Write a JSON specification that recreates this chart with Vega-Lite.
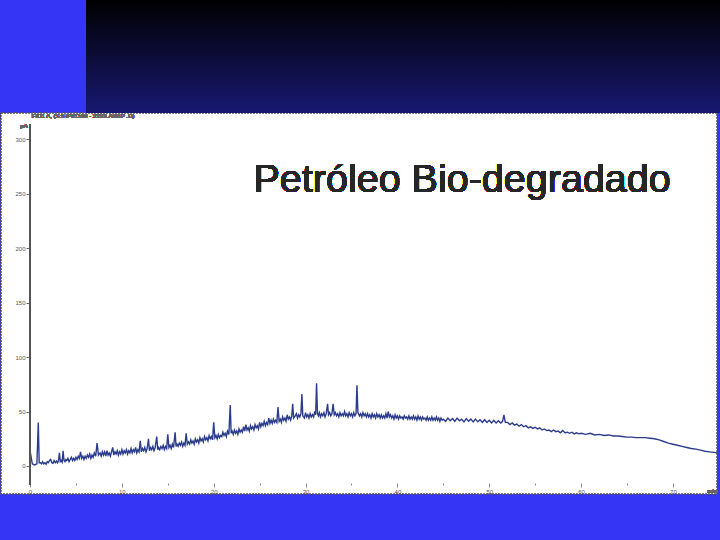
{
  "$schema": "https://vega.github.io/schema/vega-lite/v6.json",
  "width": 716,
  "height": 381,
  "autosize": {"type": "none"},
  "padding": {"left": 1, "top": 113, "right": 3, "bottom": 46},
  "background": "#3535f5",
  "config": {
    "view": {"fill": "white", "stroke": "#555555", "strokeWidth": 1.5, "strokeDash": [2, 1]},
    "font": "Liberation Sans",
    "axis": {"labelOverlap": false, "labelFlush": false, "labelBound": false, "grid": false, "title": null, "domain": false},
    "axisX": {
      "offset": -11,
      "values": [0,1,2,3,4,5,6,7,8,9,10,11,12,13,14,15,16,17,18,19,20,21,22,23,24,25,26,27,28,29,30,31,32,33,34,35,36,37,38,39,40,41,42,43,44,45,46,47,48,49,50,51,52,53,54,55,56,57,58,59,60,61,62,63,64,65,66,67,68,69,70,71,72,73,74],
      "labelExpr": "datum.value % 10 === 0 ? datum.label : ''",
      "labelOverlap": false,
      "labelFontSize": 6, "labelColor": "#555555", "labelPadding": 1,
      "tickColor": "#888888",
      "tickSize": {"condition": {"test": "datum.value % 10 === 0", "value": 4}, "value": 2}
    },
    "axisY": {
      "offset": -29,
      "values": [-10,0,10,20,30,40,50,60,70,80,90,100,110,120,130,140,150,160,170,180,190,200,210,220,230,240,250,260,270,280,290,300,310],
      "labelExpr": "datum.value % 50 === 0 && datum.value >= 0 ? datum.label : ''",
      "labelOverlap": false,
      "labelFontSize": 6, "labelColor": "#555555", "labelPadding": 1,
      "tickColor": "#666666",
      "tickSize": {"condition": {"test": "datum.value % 50 === 0", "value": 4}, "value": 2}
    }
  },
  "data": {
    "values": [
      {"t":0,"v":14},{"t":0.25,"v":2},{"t":0.5,"v":1},{"t":0.75,"v":2},{"t":0.9,"v":40},{"t":1.0,"v":3},
      {"t":1.125,"v":3},{"t":1.25,"v":2},{"t":1.375,"v":4},{"t":1.5,"v":2},{"t":1.625,"v":3},{"t":1.75,"v":1.5},{"t":1.875,"v":4},
      {"t":2.0,"v":3},{"t":2.125,"v":5},{"t":2.25,"v":6},{"t":2.375,"v":3},{"t":2.5,"v":2.5},{"t":2.625,"v":5},{"t":2.75,"v":3},{"t":2.875,"v":4.5},
      {"t":3.0,"v":3},{"t":3.1,"v":5},{"t":3.2,"v":12},{"t":3.3,"v":4},{"t":3.4,"v":5},{"t":3.5,"v":3.5},{"t":3.6,"v":14},{"t":3.7,"v":5},{"t":3.8,"v":4},{"t":3.9,"v":6},
      {"t":4.0,"v":5},{"t":4.125,"v":7},{"t":4.25,"v":4},{"t":4.375,"v":6},{"t":4.5,"v":8},{"t":4.625,"v":5},{"t":4.75,"v":7},{"t":4.875,"v":5},
      {"t":5.0,"v":8},{"t":5.125,"v":6},{"t":5.25,"v":9},{"t":5.375,"v":7},{"t":5.5,"v":13},{"t":5.625,"v":7},{"t":5.75,"v":9},{"t":5.875,"v":6},
      {"t":6.0,"v":9},{"t":6.125,"v":7},{"t":6.25,"v":10},{"t":6.375,"v":8},{"t":6.5,"v":11},{"t":6.625,"v":7},{"t":6.75,"v":10},{"t":6.875,"v":8},
      {"t":7.0,"v":12},{"t":7.15,"v":9},{"t":7.3,"v":21},{"t":7.45,"v":10},{"t":7.625,"v":12},{"t":7.75,"v":9},{"t":7.875,"v":13},
      {"t":8.0,"v":10},{"t":8.125,"v":13},{"t":8.25,"v":9},{"t":8.375,"v":14},{"t":8.5,"v":10},{"t":8.625,"v":12},{"t":8.75,"v":9},{"t":8.875,"v":13},
      {"t":9.0,"v":17},{"t":9.125,"v":10},{"t":9.25,"v":13},{"t":9.375,"v":11},{"t":9.5,"v":14},{"t":9.625,"v":10},{"t":9.75,"v":13},{"t":9.875,"v":11},
      {"t":10.0,"v":15},{"t":10.125,"v":11},{"t":10.25,"v":14},{"t":10.375,"v":12},{"t":10.5,"v":15},{"t":10.625,"v":11},{"t":10.75,"v":14},{"t":10.875,"v":12},
      {"t":11.0,"v":16},{"t":11.125,"v":12},{"t":11.25,"v":15},{"t":11.375,"v":13},{"t":11.5,"v":17},{"t":11.625,"v":12},{"t":11.75,"v":15},{"t":11.875,"v":13},
      {"t":12.0,"v":23},{"t":12.125,"v":13},{"t":12.25,"v":16},{"t":12.375,"v":14},{"t":12.5,"v":17},{"t":12.625,"v":13},{"t":12.75,"v":16},{"t":12.9,"v":25},{"t":13.0,"v":14},
      {"t":13.125,"v":17},{"t":13.25,"v":15},{"t":13.375,"v":18},{"t":13.5,"v":14},{"t":13.625,"v":17},{"t":13.8,"v":27},{"t":13.9,"v":15},{"t":14.0,"v":17},
      {"t":14.125,"v":15},{"t":14.25,"v":18},{"t":14.375,"v":16},{"t":14.5,"v":19},{"t":14.625,"v":15},{"t":14.75,"v":18},{"t":14.875,"v":16},
      {"t":15.0,"v":29},{"t":15.125,"v":17},{"t":15.25,"v":19},{"t":15.375,"v":16},{"t":15.5,"v":20},{"t":15.625,"v":17},{"t":15.8,"v":31},{"t":15.9,"v":18},
      {"t":16.0,"v":20},{"t":16.125,"v":18},{"t":16.25,"v":21},{"t":16.375,"v":19},{"t":16.5,"v":22},{"t":16.625,"v":18},{"t":16.75,"v":21},{"t":16.875,"v":19},
      {"t":17.0,"v":30},{"t":17.125,"v":20},{"t":17.25,"v":22},{"t":17.375,"v":20},{"t":17.5,"v":24},{"t":17.625,"v":21},{"t":17.75,"v":23},{"t":17.875,"v":20},
      {"t":18.0,"v":25},{"t":18.125,"v":22},{"t":18.25,"v":24},{"t":18.375,"v":21},{"t":18.5,"v":26},{"t":18.625,"v":23},{"t":18.75,"v":25},{"t":18.875,"v":22},
      {"t":19.0,"v":27},{"t":19.125,"v":24},{"t":19.25,"v":26},{"t":19.375,"v":23},{"t":19.5,"v":28},{"t":19.625,"v":25},{"t":19.75,"v":27},{"t":19.875,"v":24},
      {"t":20.0,"v":40},{"t":20.125,"v":26},{"t":20.25,"v":28},{"t":20.375,"v":25},{"t":20.5,"v":29},{"t":20.625,"v":26},{"t":20.75,"v":28},{"t":20.875,"v":27},
      {"t":21.0,"v":31},{"t":21.125,"v":28},{"t":21.25,"v":30},{"t":21.375,"v":27},{"t":21.5,"v":32},{"t":21.65,"v":29},{"t":21.8,"v":56},{"t":21.9,"v":30},
      {"t":22.0,"v":32},{"t":22.125,"v":29},{"t":22.25,"v":33},{"t":22.375,"v":30},{"t":22.5,"v":32},{"t":22.625,"v":29},{"t":22.75,"v":34},{"t":22.875,"v":31},
      {"t":23.0,"v":33},{"t":23.125,"v":31},{"t":23.25,"v":36},{"t":23.375,"v":32},{"t":23.5,"v":38},{"t":23.625,"v":33},{"t":23.75,"v":35},{"t":23.875,"v":32},
      {"t":24.0,"v":37},{"t":24.125,"v":34},{"t":24.25,"v":36},{"t":24.375,"v":33},{"t":24.5,"v":38},{"t":24.625,"v":35},{"t":24.75,"v":37},{"t":24.875,"v":34},
      {"t":25.0,"v":40},{"t":25.125,"v":36},{"t":25.25,"v":39},{"t":25.375,"v":37},{"t":25.5,"v":41},{"t":25.625,"v":37},{"t":25.75,"v":40},{"t":25.875,"v":38},
      {"t":26.0,"v":44},{"t":26.125,"v":39},{"t":26.25,"v":42},{"t":26.375,"v":39},{"t":26.5,"v":43},{"t":26.625,"v":40},{"t":26.75,"v":42},{"t":26.875,"v":40},
      {"t":27.0,"v":54},{"t":27.125,"v":41},{"t":27.25,"v":43},{"t":27.375,"v":40},{"t":27.5,"v":45},{"t":27.625,"v":42},{"t":27.75,"v":44},{"t":27.875,"v":41},
      {"t":28.0,"v":47},{"t":28.125,"v":43},{"t":28.25,"v":45},{"t":28.375,"v":42},{"t":28.5,"v":46},{"t":28.6,"v":57},{"t":28.7,"v":44},{"t":28.875,"v":46},
      {"t":29.0,"v":48},{"t":29.125,"v":44},{"t":29.25,"v":47},{"t":29.375,"v":45},{"t":29.5,"v":48},{"t":29.6,"v":66},{"t":29.7,"v":46},{"t":29.875,"v":44},
      {"t":30.0,"v":49},{"t":30.125,"v":45},{"t":30.25,"v":47},{"t":30.375,"v":44},{"t":30.5,"v":48},{"t":30.625,"v":45},{"t":30.75,"v":47},{"t":30.875,"v":45},
      {"t":31.0,"v":50},{"t":31.1,"v":47},{"t":31.2,"v":76},{"t":31.3,"v":48},{"t":31.4,"v":46},{"t":31.5,"v":49},{"t":31.625,"v":45},{"t":31.75,"v":48},{"t":31.875,"v":46},
      {"t":32.0,"v":49},{"t":32.125,"v":45},{"t":32.25,"v":48},{"t":32.4,"v":57},{"t":32.5,"v":47},{"t":32.625,"v":49},{"t":32.75,"v":46},{"t":32.875,"v":48},
      {"t":33.0,"v":57},{"t":33.125,"v":47},{"t":33.25,"v":49},{"t":33.375,"v":46},{"t":33.5,"v":48},{"t":33.625,"v":45},{"t":33.75,"v":49},{"t":33.875,"v":46},
      {"t":34.0,"v":48},{"t":34.125,"v":46},{"t":34.25,"v":50},{"t":34.375,"v":46},{"t":34.5,"v":48},{"t":34.625,"v":45},{"t":34.75,"v":49},{"t":34.875,"v":46},
      {"t":35.0,"v":48},{"t":35.125,"v":45},{"t":35.25,"v":49},{"t":35.375,"v":46},{"t":35.5,"v":48},{"t":35.6,"v":74},{"t":35.7,"v":49},{"t":35.875,"v":46},
      {"t":36.0,"v":48},{"t":36.125,"v":45},{"t":36.25,"v":49},{"t":36.375,"v":46},{"t":36.5,"v":48},{"t":36.625,"v":45},{"t":36.75,"v":48},{"t":36.875,"v":45},
      {"t":37.0,"v":47},{"t":37.125,"v":44},{"t":37.25,"v":48},{"t":37.375,"v":45},{"t":37.5,"v":47},{"t":37.625,"v":44},{"t":37.75,"v":48},{"t":37.875,"v":45},
      {"t":38.0,"v":47},{"t":38.125,"v":44},{"t":38.25,"v":47},{"t":38.375,"v":44},{"t":38.5,"v":46},{"t":38.625,"v":44},{"t":38.75,"v":48},{"t":38.875,"v":44},
      {"t":39.0,"v":50},{"t":39.125,"v":45},{"t":39.25,"v":47},{"t":39.375,"v":44},{"t":39.5,"v":46},{"t":39.625,"v":43},{"t":39.75,"v":47},{"t":39.875,"v":44},
      {"t":40.0,"v":46},{"t":40.125,"v":43},{"t":40.25,"v":46},{"t":40.375,"v":44},{"t":40.5,"v":45},{"t":40.625,"v":43},{"t":40.75,"v":46},{"t":40.875,"v":44},
      {"t":41.0,"v":45},{"t":41.125,"v":43},{"t":41.25,"v":46},{"t":41.375,"v":43},{"t":41.5,"v":45},{"t":41.625,"v":43},{"t":41.75,"v":46},{"t":41.875,"v":43},
      {"t":42.0,"v":45},{"t":42.125,"v":42},{"t":42.25,"v":46},{"t":42.375,"v":43},{"t":42.5,"v":45},{"t":42.625,"v":42},{"t":42.75,"v":45},{"t":42.875,"v":43},
      {"t":43.0,"v":44},{"t":43.125,"v":42},{"t":43.25,"v":45},{"t":43.375,"v":42},{"t":43.5,"v":44},{"t":43.625,"v":42},{"t":43.75,"v":45},{"t":43.875,"v":42},
      {"t":44.0,"v":44},{"t":44.125,"v":42},{"t":44.25,"v":45},{"t":44.375,"v":42},{"t":44.5,"v":44},{"t":44.625,"v":41},{"t":44.75,"v":44},{"t":44.875,"v":42},
      {"t":45.0,"v":43},{"t":45.25,"v":41},{"t":45.5,"v":44},{"t":45.75,"v":41.5},{"t":46.0,"v":43.5},{"t":46.25,"v":41},{"t":46.5,"v":44},{"t":46.75,"v":41.5},
      {"t":47.0,"v":43},{"t":47.25,"v":40.5},{"t":47.5,"v":43.5},{"t":47.75,"v":41},{"t":48.0,"v":43},{"t":48.25,"v":40.5},{"t":48.5,"v":43},{"t":48.75,"v":40.5},
      {"t":49.0,"v":42.5},{"t":49.25,"v":40},{"t":49.5,"v":42.5},{"t":49.75,"v":40},{"t":50.0,"v":42},{"t":50.25,"v":39.5},{"t":50.5,"v":42},{"t":50.75,"v":39.5},
      {"t":51.0,"v":41.5},{"t":51.25,"v":39.5},{"t":51.45,"v":41},{"t":51.6,"v":47},{"t":51.75,"v":40},{"t":52.0,"v":40},{"t":52.25,"v":38},{"t":52.5,"v":39.5},{"t":52.75,"v":37.5},
      {"t":53.0,"v":38.5},{"t":53.25,"v":36.5},{"t":53.5,"v":38},{"t":53.75,"v":36},{"t":54.0,"v":37},{"t":54.25,"v":35},{"t":54.5,"v":36},{"t":54.75,"v":34.5},
      {"t":55.0,"v":35.5},{"t":55.25,"v":34},{"t":55.5,"v":35},{"t":55.75,"v":33},{"t":56.0,"v":34},{"t":56.25,"v":32.5},{"t":56.5,"v":33},{"t":56.75,"v":31.5},
      {"t":57.0,"v":33},{"t":57.25,"v":31.5},{"t":57.5,"v":32},{"t":57.75,"v":30.5},{"t":58.0,"v":32.5},{"t":58.25,"v":30.5},{"t":58.5,"v":31},{"t":58.75,"v":30},
      {"t":59.0,"v":31},{"t":59.25,"v":29.5},{"t":59.5,"v":30.5},{"t":59.75,"v":29.5},{"t":60.0,"v":30},{"t":60.5,"v":29},{"t":61.0,"v":30},{"t":61.5,"v":28.5},
      {"t":62.0,"v":29},{"t":62.5,"v":28},{"t":63.0,"v":28.5},{"t":63.5,"v":27.5},{"t":64.0,"v":27.5},{"t":64.5,"v":27},{"t":65.0,"v":26.5},{"t":65.5,"v":26.5},
      {"t":66.0,"v":26},{"t":66.5,"v":26},{"t":67.0,"v":26},{"t":67.5,"v":25.5},{"t":68.0,"v":25},{"t":68.5,"v":24},{"t":69.0,"v":22.5},{"t":69.5,"v":21},
      {"t":70.0,"v":20},{"t":70.5,"v":19},{"t":71.0,"v":18},{"t":71.5,"v":17},{"t":72.0,"v":16},{"t":72.5,"v":15.5},{"t":73.0,"v":14.5},{"t":73.5,"v":13.5},
      {"t":74.0,"v":13},{"t":74.5,"v":12.5},{"t":74.8,"v":12}
    ]
  },
  "layer": [
    {
      "mark": {"type": "line", "color": "#2b3c8c", "strokeWidth": 1.4, "clip": true},
      "encoding": {
        "x": {
          "field": "t", "type": "quantitative",
          "scale": {"domain": [-3.16, 74.8], "nice": false, "zero": false},
          "axis": {"labelOverlap": false}
        },
        "y": {
          "field": "v", "type": "quantitative",
          "scale": {"domain": [-25.7, 323.9], "nice": false, "zero": false},
          "axis": {"labelOverlap": false}
        }
      }
    },
    {
      "mark": {"type": "rect", "clip": false, "color": {"gradient": "linear", "x1": 0, "y1": 0, "x2": 0, "y2": 1, "stops": [{"offset": 0, "color": "#000000"}, {"offset": 1, "color": "#181872"}]}},
      "encoding": {
        "x": {"datum": 6.1, "type": "quantitative"},
        "x2": {"datum": 76},
        "y": {"datum": 428, "type": "quantitative"},
        "y2": {"datum": 324}
      }
    },
    {
      "mark": {"type": "rule", "color": "#555555", "strokeWidth": 1},
      "encoding": {
        "x": {"datum": 0, "type": "quantitative"},
        "y": {"datum": -17, "type": "quantitative"},
        "y2": {"datum": 313}
      }
    },
    {
      "mark": {"type": "text", "font": "Liberation Sans", "fontSize": 39.5, "color": "#262626", "align": "center", "baseline": "alphabetic"},
      "encoding": {
        "x": {"datum": 47.05, "type": "quantitative"},
        "y": {"datum": 251.4, "type": "quantitative"},
        "text": {"value": "Petróleo Bio-degradado"}
      }
    },
    {
      "mark": {"type": "text", "fontSize": 6, "color": "#666666", "align": "left", "baseline": "middle"},
      "encoding": {
        "x": {"datum": 0.2, "type": "quantitative"},
        "y": {"datum": 321.5, "type": "quantitative"},
        "text": {"value": "FID1 A, (S:\\HPI\\1103 - 31\\BLANKP .D)"}
      }
    },
    {
      "mark": {"type": "text", "fontSize": 6, "color": "#666666", "align": "right", "baseline": "middle"},
      "encoding": {
        "x": {"datum": -0.25, "type": "quantitative"},
        "y": {"datum": 312, "type": "quantitative"},
        "text": {"value": "pA"}
      }
    },
    {
      "mark": {"type": "text", "fontSize": 6, "color": "#666666", "align": "center", "baseline": "middle"},
      "encoding": {
        "x": {"datum": 74.3, "type": "quantitative"},
        "y": {"datum": -22.5, "type": "quantitative"},
        "text": {"value": "min"}
      }
    }
  ]
}
